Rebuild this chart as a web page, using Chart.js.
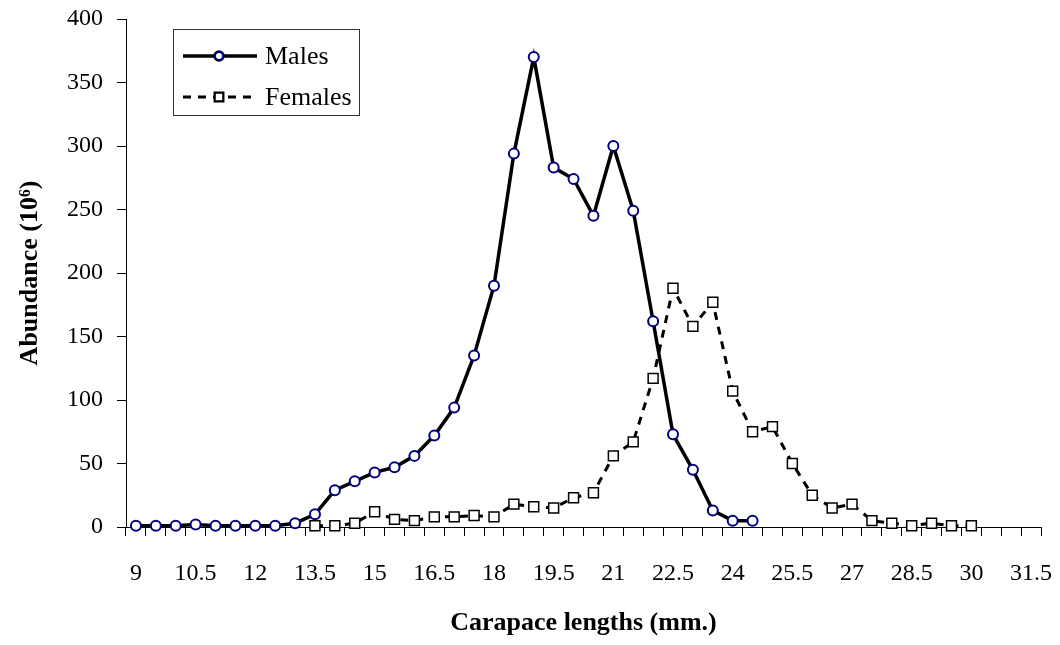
<!DOCTYPE html>
<html>
<head>
<meta charset="utf-8">
<script src="https://cdn.jsdelivr.net/npm/chart.js@4.4.0/dist/chart.umd.min.js"></script>
<style>
  html, body { margin: 0; padding: 0; background: #fff; }
  canvas { display: block; }
</style>
</head>
<body>
<canvas id="myChart" width="1060" height="645"></canvas>
<script>
// carapace length classes (mm)
var lengths = ['9', '9.5', '10', '10.5', '11', '11.5', '12', '12.5', '13', '13.5',
  '14', '14.5', '15', '15.5', '16', '16.5', '17', '17.5', '18', '18.5',
  '19', '19.5', '20', '20.5', '21', '21.5', '22', '22.5', '23', '23.5',
  '24', '24.5', '25', '25.5', '26', '26.5', '27', '27.5', '28', '28.5',
  '29', '29.5', '30', '30.5', '31', '31.5'];

// abundance (10^6), males from 9 to 24.5 mm
var males = [1, 1, 1, 2, 1, 1, 1, 1, 3, 10,
  29, 36, 43, 47, 56, 72, 94, 135, 190, 294,
  370, 283, 274, 245, 300, 249, 162, 73, 45, 13,
  5, 5];

// females from 13.5 to 30 mm
var femalesStart = '13.5';
var females = [1, 1, 3, 12, 6, 5, 8, 8, 9, 8,
  18, 16, 15, 23, 27, 56, 67, 117, 188, 158,
  177, 107, 75, 79, 50, 25, 15, 18, 5, 3,
  1, 3, 1, 1];

var yTicks = [0, 50, 100, 150, 200, 250, 300, 350, 400];

function alignSeries(values, startLabel) {
  var start = lengths.indexOf(startLabel);
  return lengths.map(function (l, i) {
    var k = i - start;
    return (k >= 0 && k < values.length) ? values[k] : null;
  });
}

var serif = '"Liberation Serif", "Times New Roman", serif';

// legend drawn as a box with line samples, like the original
var boxLegend = {
  id: 'boxLegend',
  afterDraw: function (chart) {
    var ctx = chart.ctx;
    var x0 = 173, y0 = 29, w = 186, h = 86;
    ctx.save();
    ctx.fillStyle = '#fff';
    ctx.fillRect(x0, y0, w, h);
    ctx.strokeStyle = '#333';
    ctx.lineWidth = 1;
    ctx.strokeRect(x0 + 0.5, y0 + 0.5, w, h);
    var rows = [56, 97];
    chart.data.datasets.forEach(function (ds, i) {
      var y = rows[i];
      ctx.strokeStyle = ds.borderColor;
      ctx.lineWidth = ds.borderWidth;
      ctx.setLineDash(ds.borderDash || []);
      ctx.beginPath();
      ctx.moveTo(183, y);
      ctx.lineTo(257, y);
      ctx.stroke();
      ctx.setLineDash([]);
      Chart.helpers.drawPoint(ctx, {
        pointStyle: ds.pointStyle,
        radius: ds.pointRadius * 0.8,
        rotation: 0,
        borderWidth: ds.pointBorderWidth
      }, 219, y);
      ctx.fillStyle = ds.pointBackgroundColor;
      ctx.strokeStyle = ds.pointBorderColor;
      ctx.lineWidth = ds.pointBorderWidth;
      ctx.fill();
      ctx.stroke();
      ctx.fillStyle = '#000';
      ctx.font = '26px ' + serif;
      ctx.textBaseline = 'middle';
      ctx.fillText(ds.label, 265, y + 1);
    });
    ctx.restore();
  }
};

function noEdgePadding(scale) {
  scale.paddingTop = 0;
  scale.paddingBottom = 0;
  scale.paddingLeft = 0;
  scale.paddingRight = 0;
}

var ctx = document.getElementById('myChart');
var myChart = new Chart(ctx, {
  type: 'line',
  data: {
    labels: lengths,
    datasets: [
      {
        label: 'Males',
        data: alignSeries(males, '9'),
        borderColor: '#000',
        borderWidth: 3.5,
        pointStyle: 'circle',
        pointRadius: 5,
        pointBorderWidth: 2,
        pointBorderColor: '#000080',
        pointBackgroundColor: '#fff',
        tension: 0,
        spanGaps: false,
        clip: false
      },
      {
        label: 'Females',
        data: alignSeries(females, femalesStart),
        borderColor: '#000',
        borderWidth: 3,
        borderDash: [8, 7],
        pointStyle: 'rect',
        pointRadius: 7,
        pointBorderWidth: 1.5,
        pointBorderColor: '#000',
        pointBackgroundColor: '#fff',
        tension: 0,
        spanGaps: false,
        clip: false
      }
    ]
  },
  options: {
    responsive: false,
    animation: false,
    devicePixelRatio: 1,
    layout: { padding: { left: 0, right: 19, top: 19, bottom: 0 } },
    plugins: {
      legend: { display: false },
      tooltip: { enabled: false }
    },
    scales: {
      x: {
        type: 'category',
        offset: true,
        grid: {
          offset: true,
          drawOnChartArea: false,
          drawTicks: true,
          tickLength: 9,
          color: '#000'
        },
        border: { display: true, color: '#000', width: 1 },
        ticks: {
          autoSkip: false,
          maxRotation: 0,
          padding: 23,
          color: '#000',
          font: { family: serif, size: 24 },
          callback: function (val, i) {
            return i % 3 === 0 ? lengths[i] : '';
          }
        },
        title: {
          display: true,
          text: 'Carapace lengths (mm.)',
          color: '#000',
          font: { family: serif, size: 26, weight: 'bold' },
          padding: { top: 0, bottom: 6 }
        },
        afterFit: function (scale) {
          scale.height = 118;
          noEdgePadding(scale);
        }
      },
      y: {
        min: 0,
        max: 400,
        grid: {
          drawOnChartArea: false,
          drawTicks: true,
          tickLength: 9,
          color: '#000'
        },
        border: { display: true, color: '#000', width: 1 },
        afterBuildTicks: function (scale) {
          scale.ticks = yTicks.map(function (v) { return { value: v }; });
        },
        ticks: {
          padding: 14,
          color: '#000',
          font: { family: serif, size: 24 }
        },
        title: {
          display: true,
          text: 'Abundance (10\u2076)',
          color: '#000',
          font: { family: serif, size: 26, weight: 'bold' },
          padding: { top: 15, bottom: 0 }
        },
        afterFit: function (scale) {
          scale.width = 126;
          noEdgePadding(scale);
        }
      }
    }
  },
  plugins: [boxLegend]
});
</script>
</body>
</html>
